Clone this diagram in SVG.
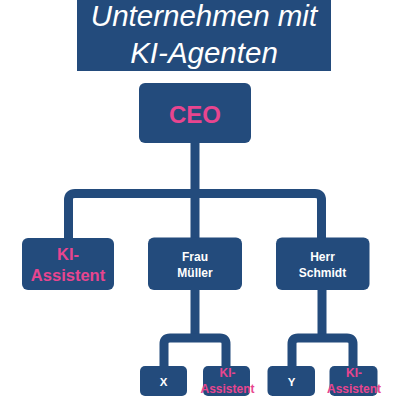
<svg xmlns="http://www.w3.org/2000/svg" width="400" height="400" viewBox="0 0 400 400">
<defs>
<style>
.box{fill:#234B7C}
.ln{fill:none;stroke:#234B7C;stroke-width:9;stroke-linejoin:round}
.t{font-family:"Liberation Sans",Arial,sans-serif;font-weight:bold;text-anchor:middle}
.w{fill:#ffffff}
.p{fill:#E8458F}
.title{font-family:"Liberation Sans",Arial,sans-serif;font-style:italic;fill:#ffffff;text-anchor:middle;font-size:29.5px}
</style>
</defs>
<rect x="0" y="0" width="400" height="400" fill="#ffffff"/>
<g id="title">
<rect class="box" x="77" y="-10" width="254" height="81"/>
<text class="title" x="204" y="26">Unternehmen mit</text>
<text class="title" x="204" y="63">KI-Agenten</text>
</g>
<g id="connectors">
<path class="ln" d="M195,143 V238"/>
<path class="ln" d="M68.5,238 V200 Q68.5,193.5 75,193.5 H315 Q321.5,193.5 321.5,200 V238"/>
<path class="ln" d="M195,290 V338"/>
<path class="ln" d="M164,366 V344 Q164,338 170,338 H220 Q226,338 226,344 V366"/>
<path class="ln" d="M322,290 V338"/>
<path class="ln" d="M292,366 V344 Q292,338 298,338 H347 Q353,338 353,344 V366"/>
</g>
<g id="ceo">
<rect class="box" x="139" y="83" width="112" height="60" rx="6"/>
<text class="t p" x="195" y="122.5" font-size="24">CEO</text>
</g>
<g id="ki1">
<rect class="box" x="22" y="238" width="92" height="52" rx="6"/>
<text class="t p" x="68" y="259.5" font-size="16.5">KI-</text>
<text class="t p" x="68" y="281" font-size="16.5">Assistent</text>
</g>
<g id="mueller">
<rect class="box" x="148" y="237.5" width="94" height="52.5" rx="6"/>
<text class="t w" x="195" y="261" font-size="12">Frau</text>
<text class="t w" x="195" y="276.6" font-size="12">Müller</text>
</g>
<g id="schmidt">
<rect class="box" x="276" y="237.5" width="93.5" height="52.5" rx="6"/>
<text class="t w" x="322.5" y="261" font-size="12">Herr</text>
<text class="t w" x="322.5" y="276.6" font-size="12">Schmidt</text>
</g>
<g id="x">
<rect class="box" x="140" y="366" width="47" height="30" rx="5"/>
<text class="t w" x="163.5" y="385.5" font-size="11.5">X</text>
</g>
<g id="ki2">
<rect class="box" x="203" y="366" width="47" height="30" rx="5"/>
<text class="t p" x="227.5" y="377.3" font-size="12">KI-</text>
<text class="t p" x="227.5" y="393.3" font-size="12">Assistent</text>
</g>
<g id="y">
<rect class="box" x="267.5" y="366" width="47.5" height="30" rx="5"/>
<text class="t w" x="291.5" y="385.5" font-size="11.5">Y</text>
</g>
<g id="ki3">
<rect class="box" x="329.5" y="366" width="48" height="30" rx="5"/>
<text class="t p" x="354" y="377.3" font-size="12">KI-</text>
<text class="t p" x="354" y="393.3" font-size="12">Assistent</text>
</g>
</svg>
